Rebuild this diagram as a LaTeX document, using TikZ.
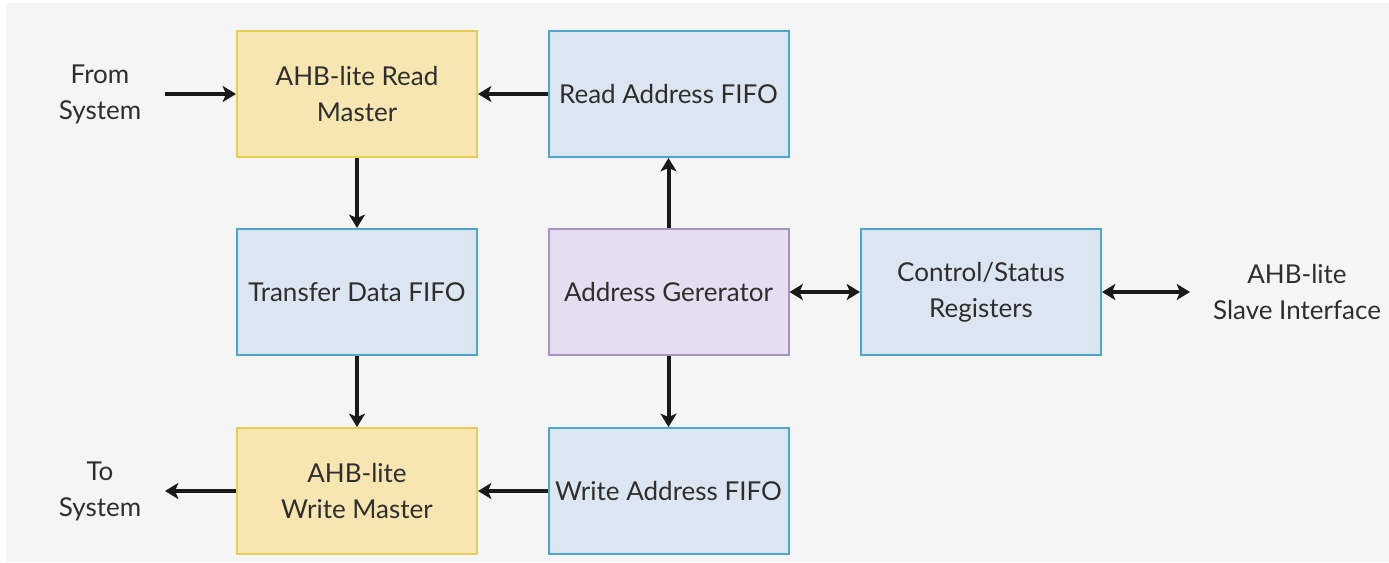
\documentclass[tikz,border=0pt]{standalone}
\usepackage{fontspec}
\setmainfont{Lato}
\usetikzlibrary{arrows.meta}
\definecolor{bg}{HTML}{F5F5F5}
\definecolor{yfill}{HTML}{F7E6B2}
\definecolor{ydraw}{HTML}{E6CD55}
\definecolor{bfill}{HTML}{DCE6F2}
\definecolor{bdraw}{HTML}{4FA6CC}
\definecolor{pfill}{HTML}{E4DEF0}
\definecolor{pdraw}{HTML}{A595C4}
\definecolor{txt}{HTML}{2E2E2E}
\tikzset{
  blk/.style={rectangle, minimum width=180pt, minimum height=94.5pt, line width=1.5pt, align=center, text=txt, font=\fontsize{19.5}{27}\selectfont, inner sep=0pt},
  yblk/.style={blk, fill=yfill, draw=ydraw},
  bblk/.style={blk, fill=bfill, draw=bdraw},
  pblk/.style={blk, fill=pfill, draw=pdraw},
  lbl/.style={align=center, text=txt, font=\fontsize{19.5}{27}\selectfont, inner sep=0pt},
  arr/.style={line width=3pt, draw=black!90, -{Stealth[length=10pt,width=12pt,inset=2.5pt]}},
  darr/.style={line width=3pt, draw=black!90, {Stealth[length=10pt,width=12pt,inset=2.5pt]}-{Stealth[length=10pt,width=12pt,inset=2.5pt]}}
}
\begin{document}
\begin{tikzpicture}[x=0.75pt,y=-0.75pt]
\useasboundingbox (0,0) rectangle (1389,562);
\fill[white] (0,0) rectangle (1389,562);
\fill[bg] (6,3) rectangle (1389,562);
\node[yblk] (rm) at (357,94) {AHB-lite Read\\Master};
\node[bblk] (raf) at (668.5,94) {Read Address FIFO};
\node[bblk] (tdf) at (357,292) {Transfer Data FIFO};
\node[pblk] (ag) at (668.5,292) {Address Gererator};
\node[bblk] (csr) at (981,292) {Control/Status\\Registers};
\node[yblk] (wm) at (357,491) {AHB-lite\\Write Master};
\node[bblk] (waf) at (668.5,491) {Write Address FIFO};
\node[lbl] (fs) at (100,94) {From\\System};
\node[lbl] (ts) at (100,491) {To\\System};
\node[lbl] (si) at (1297,292) {AHB-lite\\Slave Interface};
\coordinate (fsend) at (165,94);
\coordinate (tsend) at (165,491);
\coordinate (siend) at (1190,292);
\draw[arr] (fsend) -- (rm.west);
\draw[arr] (raf.west) -- (rm.east);
\draw[arr] (rm.south) -- (tdf.north);
\draw[arr] (tdf.south) -- (wm.north);
\draw[arr] (ag.north) -- (raf.south);
\draw[arr] (ag.south) -- (waf.north);
\draw[arr] (waf.west) -- (wm.east);
\draw[arr] (wm.west) -- (tsend);
\draw[darr] (ag.east) -- (csr.west);
\draw[darr] (csr.east) -- (siend);
\end{tikzpicture}
\end{document}
